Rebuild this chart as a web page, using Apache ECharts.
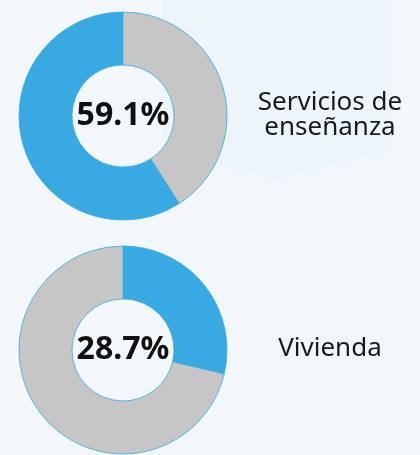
<!DOCTYPE html>
<html>
<head>
<meta charset="utf-8">
<script src="https://cdn.jsdelivr.net/npm/echarts@6/dist/echarts.min.js"></script>
<style>
  html, body { margin: 0; padding: 0; background: #F2F7FC; }
  #chart { width: 420px; height: 455px; }
</style>
</head>
<body>
<div id="chart"></div>
<script>
// datos
var categorias = ['Servicios de\nenseñanza', 'Vivienda']
var porcentajes = [59.1, 28.7]
var sentidoHorario = [false, true]

var azul = '#38AAE1'
var gris = '#C6C6C6'

var chart = echarts.init(document.getElementById('chart'))

var centros = [[123, 116], [123, 350]]

var series = porcentajes.map(function (p, i) {
  return {
    type: 'pie',
    center: centros[i],
    radius: [51, 104],
    startAngle: 90,
    clockwise: sentidoHorario[i],
    silent: true,
    avoidLabelOverlap: false,
    itemStyle: { borderColor: azul, borderWidth: 0.8 },
    label: {
      show: true,
      position: 'center',
      formatter: function () { return p.toFixed(1) + '%' },
      fontFamily: 'Noto Sans',
      fontWeight: 'bold',
      fontSize: 32,
      color: '#111'
    },
    labelLine: { show: false },
    data: [
      { value: p, itemStyle: { color: azul } },
      { value: +(100 - p).toFixed(1), itemStyle: { color: gris }, label: { show: false } }
    ]
  }
})

var textos = categorias.map(function (c, i) {
  return {
    type: 'text',
    x: 330,
    y: centros[i][1] - 1,
    style: {
      text: c,
      fontFamily: 'Noto Sans',
      fontSize: 26,
      lineHeight: 25,
      fill: '#1a1a1a',
      align: 'center',
      verticalAlign: 'middle'
    }
  }
})

chart.setOption({
  backgroundColor: '#F2F7FC',
  animation: false,
  graphic: [
    {
      type: 'polygon',
      z: -10,
      silent: true,
      shape: { points: [[163, 0], [392, 0], [392, 150], [278, 180], [163, 150]] },
      style: { fill: 'rgba(210, 226, 242, 0.15)' }
    }
  ].concat(textos),
  series: series
})
</script>
</body>
</html>
